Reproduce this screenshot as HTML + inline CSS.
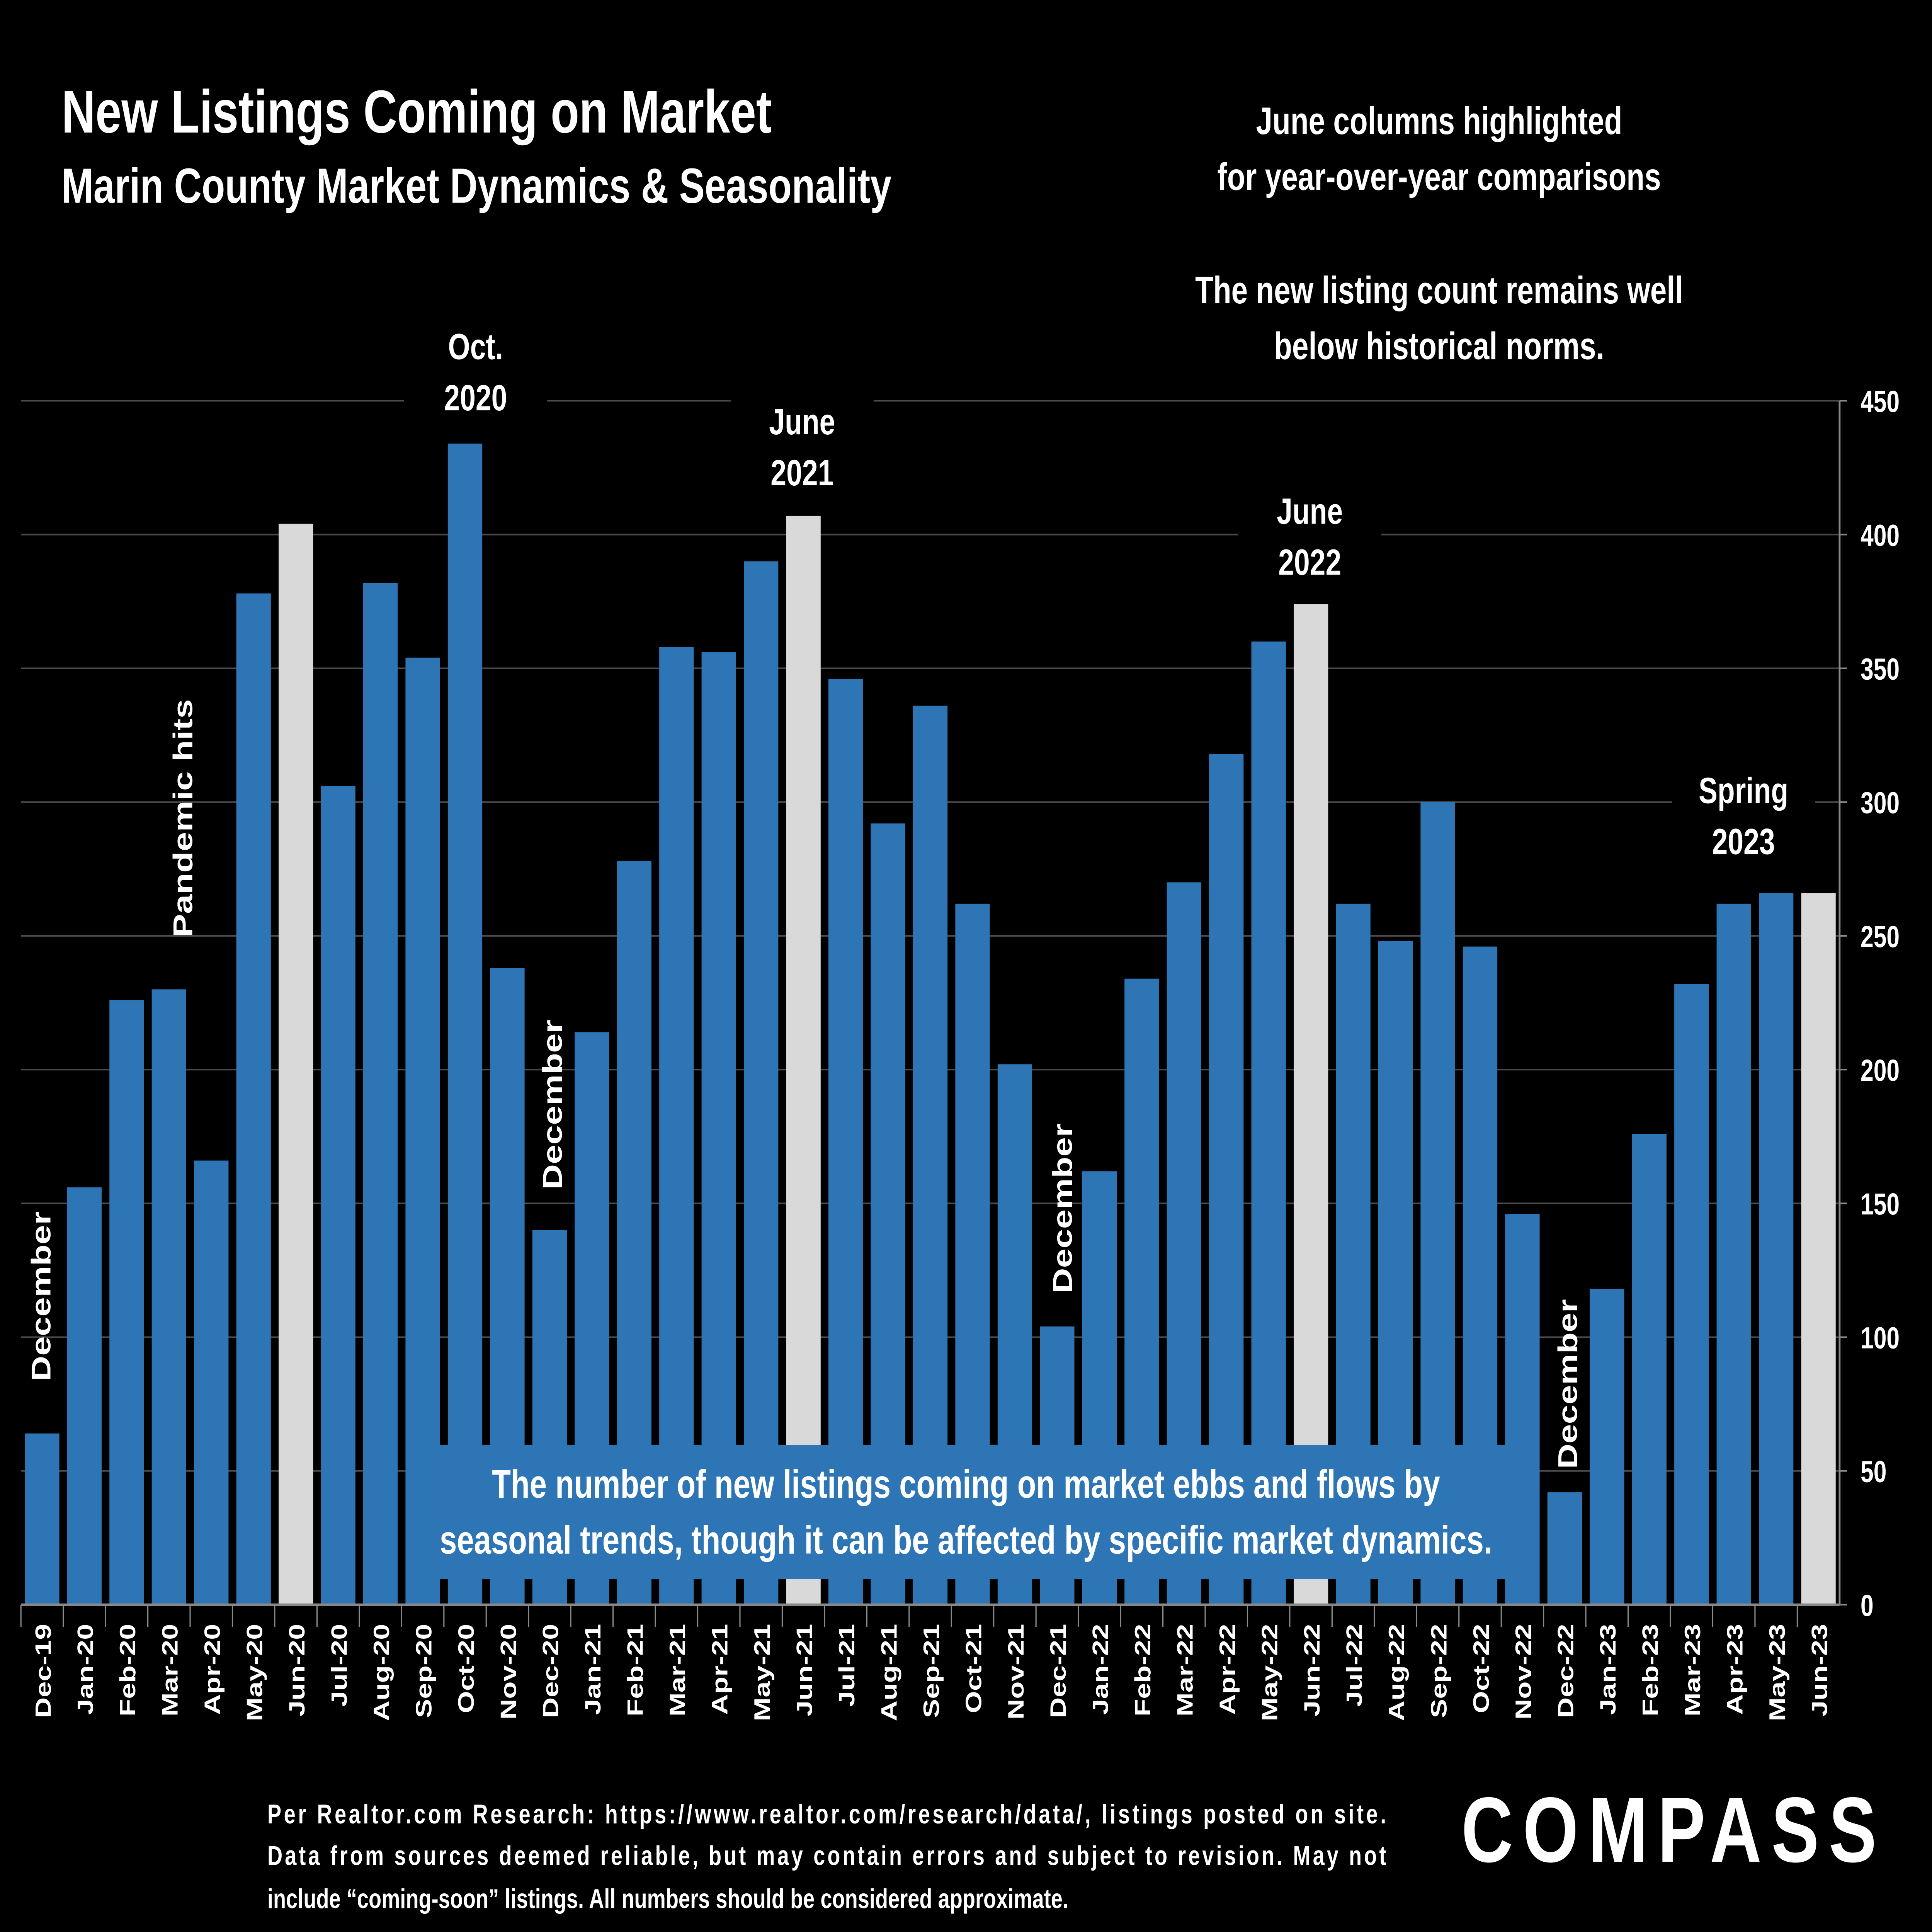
<!DOCTYPE html>
<html><head><meta charset="utf-8">
<style>
html,body{margin:0;padding:0;background:#000;width:100%;height:100%;overflow:hidden;}
svg{display:block;width:100vw;height:100vh;position:fixed;left:0;top:0;}
text{font-family:"Liberation Sans",sans-serif;fill:#fff;font-weight:bold;}
</style></head>
<body>
<svg id="chart" viewBox="0 0 1568 1210" preserveAspectRatio="none" xmlns="http://www.w3.org/2000/svg">
<rect width="1568" height="1210" fill="#000"/>
<text x="50" y="83" font-size="38">New Listings Coming on Market</text>
<text x="50" y="127" font-size="31">Marin County Market Dynamics &amp; Seasonality</text>
<g font-size="24" text-anchor="middle">
<text x="1168" y="84">June columns highlighted</text>
<text x="1168" y="119">for year-over-year comparisons</text>
<text x="1168" y="190">The new listing count remains well</text>
<text x="1168" y="225">below historical norms.</text>
</g>
<g id="grid"></g>
<g id="bars"></g>
<g id="axes"></g>
<g id="annots"></g>
<g font-size="17" font-weight="normal">
<text x="217" y="1142" textLength="908" lengthAdjust="spacing">Per Realtor.com Research:  https://www.realtor.com/research/data/, listings posted on site.</text>
<text x="217" y="1168" textLength="908" lengthAdjust="spacing">Data from sources deemed reliable, but may contain errors and subject to revision. May not</text>
<text x="217" y="1195">include “coming-soon” listings. All numbers should be considered approximate.</text>
</g>
<text x="1186" y="1166" font-size="58" font-weight="normal" letter-spacing="8" textLength="345" lengthAdjust="spacingAndGlyphs">COMPASS</text>
</svg>
<script>
const categories=["Dec-19","Jan-20","Feb-20","Mar-20","Apr-20","May-20","Jun-20","Jul-20","Aug-20","Sep-20","Oct-20","Nov-20","Dec-20","Jan-21","Feb-21","Mar-21","Apr-21","May-21","Jun-21","Jul-21","Aug-21","Sep-21","Oct-21","Nov-21","Dec-21","Jan-22","Feb-22","Mar-22","Apr-22","May-22","Jun-22","Jul-22","Aug-22","Sep-22","Oct-22","Nov-22","Dec-22","Jan-23","Feb-23","Mar-23","Apr-23","May-23","Jun-23"];
const values=[64,156,226,230,166,378,404,306,382,354,434,238,140,214,278,358,356,390,407,346,292,336,262,202,104,162,234,270,318,360,374,262,248,300,246,146,42,118,176,232,262,266,266];
const yTicks=[0,50,100,150,200,250,300,350,400,450];
const NS="http://www.w3.org/2000/svg";
const x0=17,x1=1493,yBase=1005,yTop=251,yMax=450;
const step=(x1-x0)/categories.length;
const xc=i=>x0+step*(i+0.5);
const y=v=>yBase-(v/yMax)*(yBase-yTop);
function mk(tag,attrs,parent){const e=document.createElementNS(NS,tag);for(const k in attrs)e.setAttribute(k,attrs[k]);parent.appendChild(e);return e;}
const grid=document.getElementById('grid'),bars=document.getElementById('bars'),axes=document.getElementById('axes'),ann=document.getElementById('annots');
yTicks.forEach(t=>{
  if(t>0){const l=mk('line',{x1:x0,x2:x1,y1:y(t),y2:y(t),stroke:'#4a4a4a','stroke-width':1},grid);
  
  }
  const tk=mk('line',{x1:x1,x2:x1+6,y1:y(t),y2:y(t),stroke:'#888','stroke-width':1},axes);
  
  
  const tx=mk('text',{x:x1+17,y:y(t)+7,'font-size':19,'font-weight':'normal'},axes);
  tx.textContent=t;
  
  
});
values.forEach((v,i)=>{
  const hl=categories[i].startsWith('Jun');
  const r=mk('rect',{x:xc(i)-14,y:y(v),width:28,height:yBase-y(v),fill:hl?'#d9d9d9':'#2e75b6'},bars);
  
  
  const tk=mk('line',{x1:x0+step*i,x2:x0+step*i,y1:yBase,y2:yBase+14,stroke:'#888','stroke-width':1},axes);
  
  
  const tx=mk('text',{x:0,y:0,'font-size':18,'text-anchor':'end',transform:`translate(${xc(i)+7},${yBase+12}) rotate(-90)`},axes);
  tx.textContent=categories[i];
  
  
});
let al=mk('line',{x1:x0,x2:x1,y1:yBase,y2:yBase,stroke:'#888','stroke-width':1.5},axes);


al=mk('line',{x1:x1,x2:x1,y1:yTop,y2:yBase,stroke:'#888','stroke-width':1.5},axes);


[[386,225,'Oct.','2020'],[651,272,'June','2021'],[1063,328,'June','2022'],[1415,503,'Spring','2023']].forEach(a=>{
  const g=mk('g',{},ann);
  
  
  mk('rect',{x:a[0]-58,y:a[1]-26,width:116,height:70,fill:'#000'},g);
  const t1=mk('text',{x:a[0],y:a[1],'font-size':23,'text-anchor':'middle'},g);t1.textContent=a[2];
  const t2=mk('text',{x:a[0],y:a[1]+32,'font-size':23,'text-anchor':'middle'},g);t2.textContent=a[3];
});
[[33,865,'December'],[148,587,'Pandemic hits'],[448,745,'December'],[862,810,'December'],[1272,920,'December']].forEach(a=>{
  const t=mk('text',{x:0,y:0,'font-size':22,transform:`translate(${a[0]+8},${a[1]}) rotate(-90)`},ann);
  t.textContent=a[2];
  
  
});
const box=mk('g',{},ann);


mk('rect',{x:330,y:905,width:898,height:84,fill:'#2e75b6'},box);
const c1=mk('text',{x:784,y:938,'font-size':25,'text-anchor':'middle'},box);c1.textContent='The number of new listings coming on market ebbs and flows by';
const c2=mk('text',{x:784,y:973,'font-size':25,'text-anchor':'middle'},box);c2.textContent='seasonal trends, though it can be affected by specific market dynamics.';
</script>
</body></html>
